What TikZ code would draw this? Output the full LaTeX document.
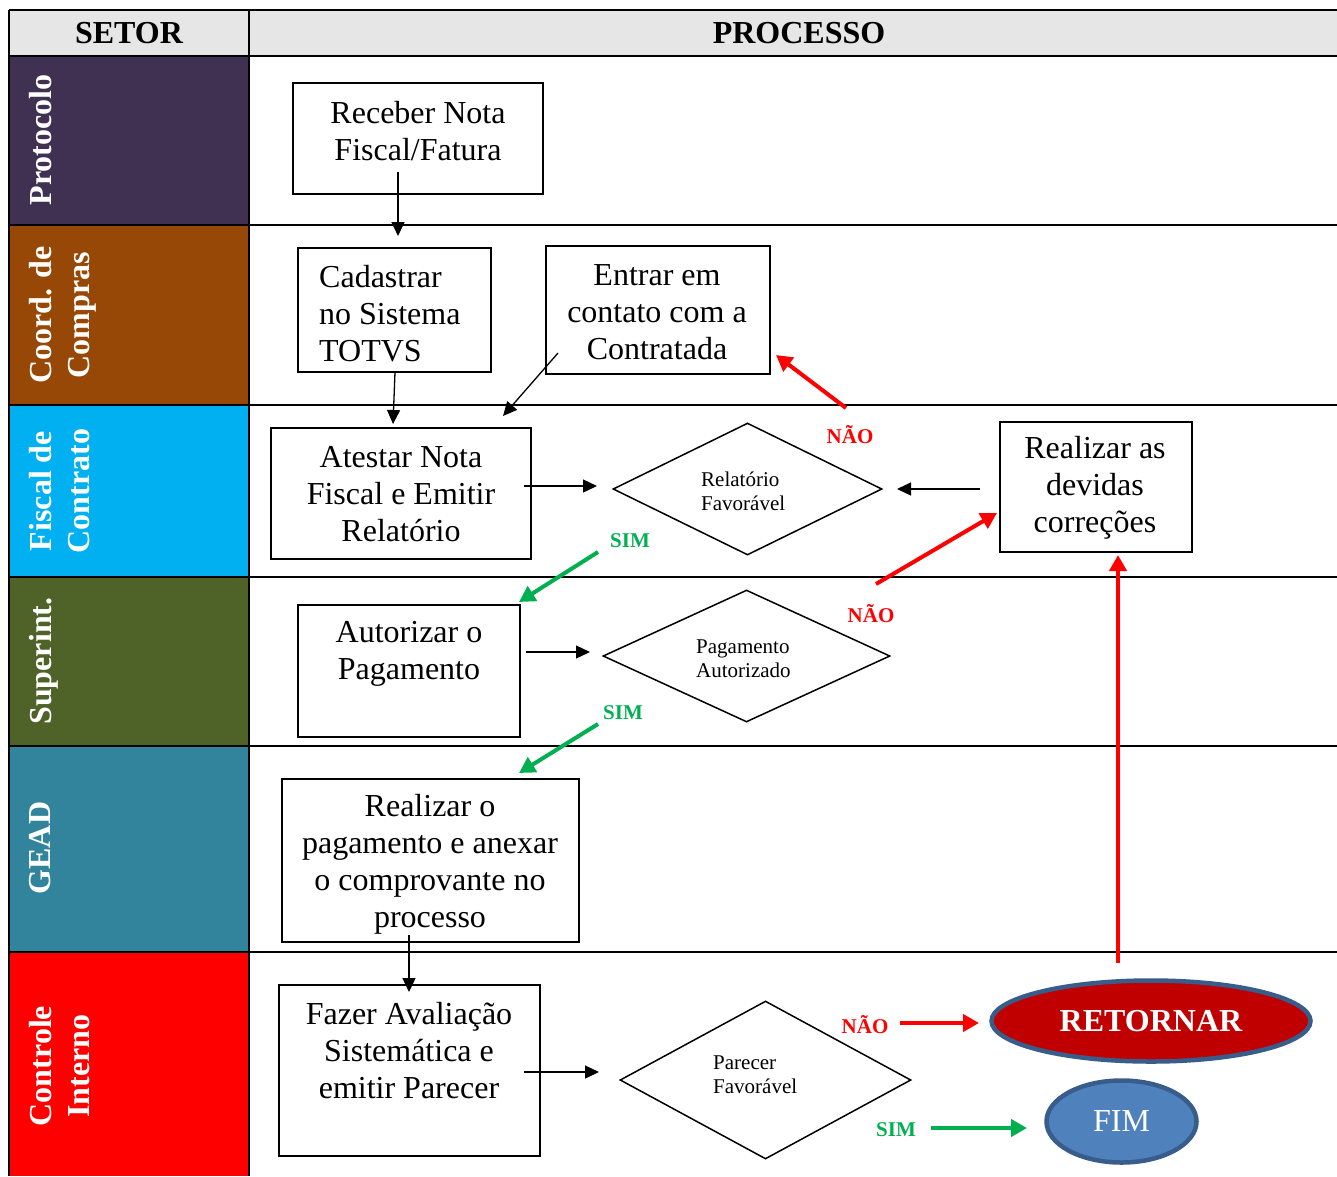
\documentclass[tikz,border=0pt]{standalone}
\usepackage{fontspec}
\setmainfont{Liberation Serif}
\usetikzlibrary{arrows.meta,shapes.geometric}
\definecolor{headgray}{RGB}{231,230,230}
\definecolor{protocolo}{RGB}{64,49,82}
\definecolor{compras}{RGB}{151,71,6}
\definecolor{fiscal}{RGB}{0,176,240}
\definecolor{superint}{RGB}{79,98,40}
\definecolor{gead}{RGB}{49,132,155}
\definecolor{controle}{RGB}{255,0,0}
\definecolor{nored}{RGB}{255,0,0}
\definecolor{yesgreen}{RGB}{0,176,80}
\definecolor{retfill}{RGB}{192,0,0}
\definecolor{fimfill}{RGB}{79,129,189}
\definecolor{ovalline}{RGB}{56,93,138}
\newcommand\mainsize{\fontsize{32}{37}\selectfont}
\newcommand\smallsize{\fontsize{21}{24}\selectfont}
\newcommand\tagsize{\fontsize{21}{24}\selectfont\bfseries}
\begin{document}
\begin{tikzpicture}[x=1pt,y=-1pt,
  grid/.style={line width=2pt},
  box/.style={draw, line width=1.5pt, inner sep=0pt},
  txt/.style={font=\mainsize, align=center, inner sep=0pt},
  dtxt/.style={font=\smallsize, align=left, inner sep=0pt, anchor=west},
  decision/.style={draw, diamond, line width=1.5pt, inner sep=0pt},
  flow/.style={-{Triangle[length=14pt,width=13pt]}, line width=1.3pt},
  noarrow/.style={-{Triangle[length=16pt,width=17pt]}, line width=4pt, draw=nored},
  yesarrow/.style={-{Triangle[length=16pt,width=17pt]}, line width=4pt, draw=yesgreen},
  notag/.style={font=\tagsize, text=nored, inner sep=0pt},
  yestag/.style={font=\tagsize, text=yesgreen, inner sep=0pt},
  lanetxt/.style={rotate=90, anchor=north, font=\fontsize{32}{38}\selectfont\bfseries, text=white, align=center, inner sep=0pt},
  headtxt/.style={font=\fontsize{32}{37}\selectfont\bfseries, inner sep=0pt}]
\useasboundingbox (0,0) rectangle (1337,1176);
\fill[white] (0,0) rectangle (1337,1176);

% header row and lane colours
\fill[headgray] (9,10) rectangle (1337,56);
\fill[protocolo] (9,56) rectangle (249,225);
\fill[compras] (9,225) rectangle (249,405);
\fill[fiscal] (9,405) rectangle (249,577);
\fill[superint] (9,577) rectangle (249,746);
\fill[gead] (9,746) rectangle (249,952);
\fill[controle] (9,952) rectangle (249,1176);

% table rules
\foreach \yy in {10,56,225,405,577,746,952}
  \draw[grid] (9,\yy) -- (1337,\yy);
\draw[grid] (9,10) -- (9,1176);
\draw[grid] (249,10) -- (249,1176);

% header texts
\node[headtxt] (hsetor) at (129,33) {SETOR};
\node[headtxt] (hproc) at (799,33) {PROCESSO};

% lane names
\node[lanetxt] (lprot) at (29,140) {Protocolo};
\node[lanetxt] (lcomp) at (29,315) {Coord. de\\Compras};
\node[lanetxt] (lfisc) at (29,491) {Fiscal de\\Contrato};
\node[lanetxt] (lsup) at (29,661) {Superint.};
\node[lanetxt] (lgead) at (29,848) {GEAD};
\node[lanetxt] (lctrl) at (29,1066) {Controle\\Interno};

% process boxes
\node[box, minimum width=250pt, minimum height=111pt] (receber) at (418,138.5) {};
\node[txt] (receber-t) at (418,131) {Receber Nota\\Fiscal/Fatura};

\node[box, minimum width=193pt, minimum height=124pt] (cadastrar) at (394.5,310) {};
\node[txt, align=left, anchor=west] (cadastrar-t) at (319,314) {Cadastrar\\no Sistema\\TOTVS};

\node[box, minimum width=224pt, minimum height=128pt] (entrar) at (658,310) {};
\node[txt] (entrar-t) at (657,312) {Entrar em\\contato com a\\Contratada};

\node[box, minimum width=260pt, minimum height=131pt] (atestar) at (401,493.5) {};
\node[txt] (atestar-t) at (401,494) {Atestar Nota\\Fiscal e Emitir\\Relatório};

\node[box, minimum width=192pt, minimum height=130pt] (corrigir) at (1096,487) {};
\node[txt] (corrigir-t) at (1095,488) {Realizar as\\devidas\\correções};

\node[box, minimum width=222pt, minimum height=132pt] (autorizar) at (409,671) {};
\node[txt] (autorizar-t) at (409,654) {Autorizar o\\Pagamento};

\node[box, minimum width=297pt, minimum height=163pt] (pagar) at (430.5,860.5) {};
\node[txt] (pagar-t) at (430,864) {Realizar o\\pagamento e anexar\\o comprovante no\\processo};

\node[box, minimum width=261pt, minimum height=171pt] (fazer) at (409.5,1070.5) {};
\node[txt] (fazer-t) at (409,1051) {Fazer Avaliação\\Sistemática e\\emitir Parecer};

% decisions
\node[decision, minimum width=269pt, minimum height=132pt] (relfav) at (747.5,489) {};
\node[dtxt] (relfav-t) at (701,491) {Relatório\\Favorável};

\node[decision, minimum width=287pt, minimum height=132pt] (pagaut) at (746.5,656) {};
\node[dtxt] (pagaut-t) at (696,659) {Pagamento\\Autorizado};

\node[decision, minimum width=291pt, minimum height=158pt] (parfav) at (765.5,1080) {};
\node[dtxt] (parfav-t) at (713,1075) {Parecer\\Favorável};

% terminators
\node[ellipse, draw=ovalline, fill=retfill, line width=4.5pt, minimum width=319pt, minimum height=81pt, inner sep=0pt,
      text=white, font=\fontsize{32}{37}\selectfont\bfseries] (retornar) at (1151,1021) {RETORNAR};
\node[ellipse, draw=ovalline, fill=fimfill, line width=4.5pt, minimum width=150pt, minimum height=82pt, inner sep=0pt,
      text=white, font=\mainsize] (fim) at (1121.5,1121.5) {FIM};

% connector end points
\coordinate (c1a) at (398,172);  \coordinate (c1b) at (398,236);
\coordinate (c2a) at (395,372);  \coordinate (c2b) at (393,424);
\coordinate (c3a) at (558,353);  \coordinate (c3b) at (503,416);
\coordinate (c4a) at (524,486);  \coordinate (c4b) at (597,486);
\coordinate (c5a) at (980,489);  \coordinate (c5b) at (897,489);
\coordinate (c6a) at (526,652);  \coordinate (c6b) at (590,652);
\coordinate (c7a) at (409,935);  \coordinate (c7b) at (409,992);
\coordinate (c8a) at (524,1072); \coordinate (c8b) at (599,1072);

\coordinate (n1a) at (846,408);  \coordinate (n1b) at (776,355);
\coordinate (n2a) at (876,584);  \coordinate (n2b) at (997,513);
\coordinate (n3a) at (900,1023); \coordinate (n3b) at (979,1023);
\coordinate (n4a) at (1118,963); \coordinate (n4b) at (1118,555);
\coordinate (s1a) at (598,552);  \coordinate (s1b) at (519,602);
\coordinate (s2a) at (598,724);  \coordinate (s2b) at (519,773);
\coordinate (s3a) at (931,1128); \coordinate (s3b) at (1027,1128);

% black flow arrows
\draw[flow] (c1a) -- (c1b);
\draw[flow] (c2a) -- (c2b);
\draw[flow] (c3a) -- (c3b);
\draw[flow] (c4a) -- (c4b);
\draw[flow] (c5a) -- (c5b);
\draw[flow] (c6a) -- (c6b);
\draw[flow] (c7a) -- (c7b);
\draw[flow] (c8a) -- (c8b);

% decision outcomes
\draw[noarrow] (n1a) -- (n1b);
\draw[noarrow] (n2a) -- (n2b);
\draw[noarrow] (n3a) -- (n3b);
\draw[noarrow] (n4a) -- (n4b);
\draw[yesarrow] (s1a) -- (s1b);
\draw[yesarrow] (s2a) -- (s2b);
\draw[yesarrow] (s3a) -- (s3b);

\node[notag] (nao1) at (850,435) {NÃO};
\node[notag] (nao2) at (871,614) {NÃO};
\node[notag] (nao3) at (865,1025) {NÃO};
\node[yestag] (sim1) at (630,541) {SIM};
\node[yestag] (sim2) at (623,713) {SIM};
\node[yestag] (sim3) at (896,1130) {SIM};
\end{tikzpicture}
\end{document}
